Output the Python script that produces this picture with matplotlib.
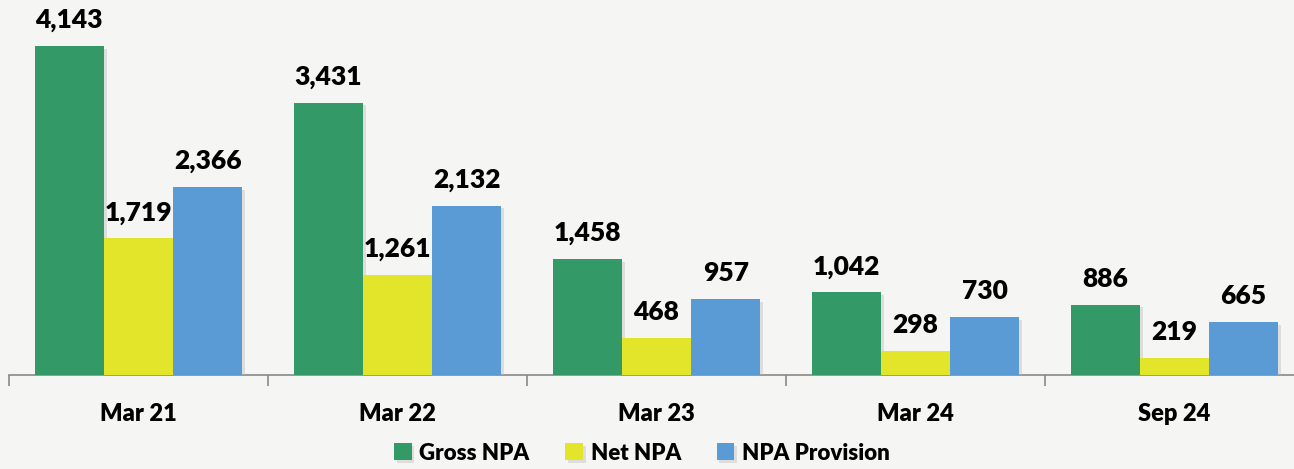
import numpy as np
import matplotlib.pyplot as plt
import matplotlib.patheffects as pe

categories = ["Mar 21", "Mar 22", "Mar 23", "Mar 24", "Sep 24"]
gross_npa = [4143, 3431, 1458, 1042, 886]
net_npa = [1719, 1261, 468, 298, 219]
npa_provision = [2366, 2132, 957, 730, 665]
series_names = ["Gross NPA", "Net NPA", "NPA Provision"]
colors = ["#339966", "#E2E52A", "#5B9BD5"]

plt.rcParams['font.family'] = ['Lato', 'DejaVu Sans']

fig = plt.figure(figsize=(12.94, 4.69), dpi=100)
fig.patch.set_facecolor("#f5f5f3")
ax = fig.add_axes([9 / 1294, 94 / 469, 1295 / 1294, 375 / 469])
ax.set_facecolor("none")

x = np.arange(len(categories))
width = 0.267
shadow = [pe.SimplePatchShadow(offset=(2, -2), shadow_rgbFace="#bbbbbb", alpha=0.4), pe.Normal()]

for i, (vals, name) in enumerate(zip([gross_npa, net_npa, npa_provision], series_names)):
    pos = x + (i - 1) * width
    ax.bar(pos, vals, width, color=colors[i], label=name, zorder=3, path_effects=shadow)
    for xp, v in zip(pos, vals):
        ax.annotate(f"{v:,}", (xp, v), xytext=(0, 18), textcoords='offset pixels',
                    ha='center', va='baseline', fontsize=19, fontweight='heavy', color='black')

ax.set_xlim(-0.5, len(categories) - 0.5)
ax.set_ylim(0, 4722)

for s in ["top", "right", "left"]:
    ax.spines[s].set_visible(False)
ax.spines["bottom"].set_color("#888888")
ax.spines["bottom"].set_linewidth(1.2)
ax.set_yticks([])

ax.set_xticks(x)
ax.set_xticklabels(categories, fontsize=17, fontweight='heavy')
ax.tick_params(axis='x', which='major', length=0, pad=20)
ax.set_xticks(np.arange(len(categories) + 1) - 0.5, minor=True)
ax.tick_params(axis='x', which='minor', length=8, color="#888888", width=1.2)

leg = fig.legend(loc='center', bbox_to_anchor=(0.496, 0.034), ncol=3, frameon=False,
                 fontsize=16, handlelength=0.8, handleheight=0.8, handletextpad=0.35,
                 columnspacing=1.6)
for t in leg.get_texts():
    t.set_fontweight('heavy')

fig.savefig("out.png", dpi=100, facecolor=fig.get_facecolor())
